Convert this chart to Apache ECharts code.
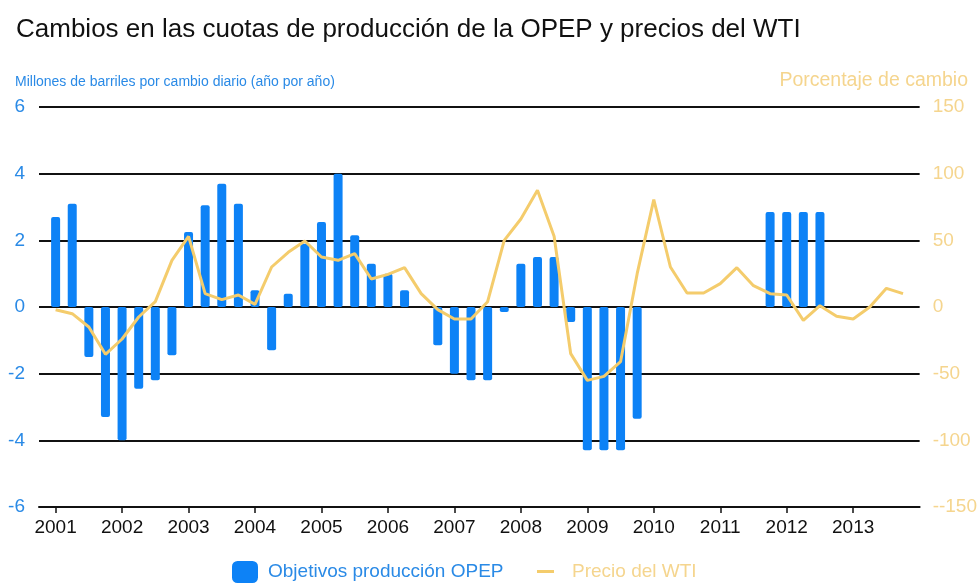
<!DOCTYPE html>
<html>
<head>
<meta charset="utf-8">
<title>OPEP vs WTI</title>
<script src="https://cdn.jsdelivr.net/npm/echarts@6/dist/echarts.min.js"></script>
<style>
  html, body { margin: 0; padding: 0; background: #fff; }
  #box { width: 980px; height: 583px; }
</style>
</head>
<body>
<div id="box"></div>
<script>
// quarters, padded with 2000Q4 and 2014Q1 so the axis has the same margins as the original
const years = [2001, 2002, 2003, 2004, 2005, 2006, 2007, 2008, 2009, 2010, 2011, 2012, 2013]
const quarters = ['2000Q4']
years.forEach(y => {
  for (let q = 1; q <= 4; q++) quarters.push(y + 'Q' + q)
})
quarters.push('2014Q1')

// OPEP quota change, million barrels/day (null = no change)
const opep = [
  2.7, 3.1, -1.5, -3.3,
  -4.0, -2.45, -2.2, -1.45,
  2.25, 3.05, 3.7, 3.1,
  0.5, -1.3, 0.4, 1.9,
  2.55, 4.0, 2.15, 1.3,
  1.0, 0.5, null, -1.15,
  -2.0, -2.2, -2.2, -0.15,
  1.3, 1.5, 1.5, -0.45,
  -4.3, -4.3, -4.3, -3.35,
  null, null, null, null,
  null, null, null, 2.85,
  2.85, 2.85, 2.85, null,
  null, null, null, null
]

// WTI price, % change y/y
const wti = [
  -2, -5, -15, -35.5,
  -24, -7.5, 4, 35,
  53, 10, 5.5, 9,
  2, 30, 41, 49.5,
  37.5, 35, 40, 21,
  24.5, 29.5, 10, -2,
  -9, -9, 4, 50,
  66, 87.5, 53, -35,
  -55, -52, -41, 25,
  80.5, 30, 10.5, 10.5,
  17.5, 29.5, 16, 10,
  9, -10, 1, -7,
  -9, 0, 14, 10
]

const blue = '#0d82f6'
const blueText = '#2a8ae6'
const gold = '#f4cc6c'
const goldText = '#f5d58e'
const font = 'Liberation Sans, Arial, sans-serif'

const isQ1 = (i, v) => /Q1$/.test(v) && v !== '2014Q1'

var myChart = echarts.init(document.getElementById('box'))
myChart.setOption({
  animation: false,
  textStyle: { fontFamily: font },
  title: [
    {
      text: 'Cambios en las cuotas de producción de la OPEP y precios del WTI',
      left: 11,
      top: 12,
      textStyle: { fontSize: 26, fontWeight: 'normal', color: '#111', fontFamily: font }
    },
    {
      text: 'Millones de barriles por cambio diario (año por año)',
      left: 10,
      top: 70,
      textStyle: { fontSize: 14, fontWeight: 'normal', color: blueText, fontFamily: font }
    },
    {
      text: 'Porcentaje de cambio',
      right: 7,
      top: 66,
      textStyle: { fontSize: 19.5, fontWeight: 'normal', color: goldText, fontFamily: font }
    }
  ],
  grid: { left: 39, right: 58, top: 107, bottom: 76 },
  legend: [
    {
      left: 232,
      top: 561,
      padding: 0,
      itemWidth: 26,
      itemHeight: 22,
      data: [{ name: 'Objetivos producción OPEP', icon: 'roundRect', textStyle: { color: blueText } }],
      textStyle: { fontSize: 19, fontFamily: font, padding: [0, 0, 0, 5] }
    },
    {
      left: 537,
      top: 562,
      padding: 0,
      itemWidth: 17,
      itemHeight: 3,
      data: [{ name: 'Precio del WTI', icon: 'rect', textStyle: { color: goldText } }],
      textStyle: { fontSize: 19, fontFamily: font, padding: [0, 0, 0, 13] }
    }
  ],
  xAxis: {
    type: 'category',
    data: quarters,
    boundaryGap: false,
    axisLine: { onZero: false, lineStyle: { color: '#111', width: 2 } },
    axisTick: { interval: isQ1, length: 6, lineStyle: { color: '#111', width: 1.5 } },
    axisLabel: {
      interval: isQ1,
      formatter: v => v.slice(0, 4),
      color: '#111',
      fontSize: 19,
      margin: 11
    },
    splitLine: { show: false }
  },
  yAxis: [
    {
      type: 'value',
      min: -6,
      max: 6,
      interval: 2,
      axisLine: { show: false },
      axisTick: { show: false },
      axisLabel: { color: blueText, fontSize: 19, margin: 14 },
      splitLine: { lineStyle: { color: '#111', width: 2 } }
    },
    {
      type: 'value',
      min: -150,
      max: 150,
      interval: 50,
      axisLine: { show: false },
      axisTick: { show: false },
      axisLabel: {
        color: goldText,
        fontSize: 19,
        margin: 13,
        formatter: v => (v === -150 ? '--150' : v)
      },
      splitLine: { show: false }
    }
  ],
  series: [
    {
      name: 'Objetivos producción OPEP',
      type: 'bar',
      data: [null, ...opep, null],
      barWidth: 9,
      itemStyle: { color: blue, borderRadius: 2 },
      z: 2
    },
    {
      name: 'Precio del WTI',
      type: 'line',
      yAxisIndex: 1,
      data: [null, ...wti, null],
      showSymbol: false,
      symbol: 'none',
      lineStyle: { color: gold, width: 3 },
      itemStyle: { color: gold },
      z: 3
    }
  ]
})
</script>
</body>
</html>
